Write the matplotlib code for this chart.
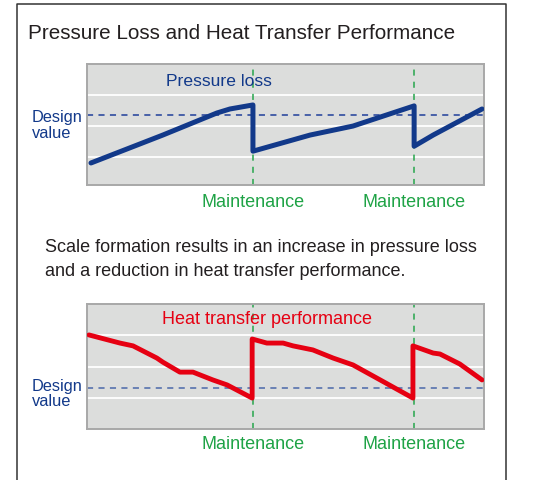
import matplotlib
matplotlib.use("Agg")
import matplotlib.pyplot as plt
from matplotlib.lines import Line2D

plt.rcParams['font.family'] = ['Liberation Sans', 'DejaVu Sans']

# ---- data ----
title = "Pressure Loss and Heat Transfer Performance"
body_lines = ["Scale formation results in an increase in pressure loss",
              "and a reduction in heat transfer performance."]
pressure_label = "Pressure loss"
heat_label = "Heat transfer performance"
maint_label = "Maintenance"
design_words = ["Design", "value"]

maintenance_t = [41.8, 82.4]

pressure_t = [1.0, 19.1, 32.7, 36.0, 41.8, 41.8, 56.2, 67.0, 82.4, 82.4, 87.2, 99.5]
pressure_v = [0.81, 1.71, 2.42, 2.55, 2.68, 1.19, 1.71, 2.00, 2.65, 1.35, 1.71, 2.55]
pressure_design = 2.35

heat_t = [0.5, 8.3, 11.6, 17.6, 19.1, 23.4, 26.7, 31.7, 35.3, 41.6, 41.6, 45.3, 49.4,
          51.9, 56.9, 62.0, 67.0, 73.0, 82.1, 82.1, 87.2, 88.9, 93.9, 99.5]
heat_v = [3.01, 2.75, 2.66, 2.27, 2.14, 1.82, 1.82, 1.57, 1.41, 0.99, 2.88, 2.75, 2.75,
          2.66, 2.53, 2.27, 2.05, 1.63, 0.99, 2.66, 2.43, 2.40, 2.08, 1.57]
heat_design = 1.31

grid_levels = [1, 2, 3]

# ---- styles ----
W, H = 540, 480
BLUE = "#12398a"
RED = "#e60012"
GREEN = "#1fa346"
TEXT = "#231f20"
PANEL = "#dcdddc"

fig = plt.figure(figsize=(W / 100, H / 100), dpi=100)
fig.patch.set_facecolor("white")


def fx(x):
    return x / W


def fy(y):
    return 1 - y / H


# outer frame
fig.add_artist(Line2D([fx(17), fx(17), fx(506), fx(506)], [fy(481), fy(3.5), fy(3.5), fy(481)],
                      transform=fig.transFigure, color="#333333", lw=1.1))

fig.text(fx(28), fy(39), title, fontsize=14.9, color=TEXT, va="baseline", ha="left")
fig.text(fx(45), fy(251.7), body_lines[0], fontsize=13.0, color=TEXT, va="baseline", ha="left")
fig.text(fx(45), fy(276), body_lines[1], fontsize=13.0, color=TEXT, va="baseline", ha="left")


def panel(box, ylim, t, v, color, lw, design, design_color, label, label_size, label_xy,
          label_color, design_xy, maint_offset):
    l, t0, r, b = box
    ax = fig.add_axes([fx(l), fy(b), (r - l) / W, (b - t0) / H])
    ax.set_facecolor(PANEL)
    ax.set_xlim(0, 100)
    ax.set_ylim(*ylim)
    ax.set_xticks([])
    ax.set_yticks([])
    for s in ax.spines.values():
        s.set_color("#a8a8a8")
        s.set_linewidth(1.4)
    for g in grid_levels:
        ax.axhline(g, color="white", lw=1.3, zorder=1)
    ax.axhline(design, color=design_color, lw=1.1, ls=(0, (4, 3.5)), zorder=2)
    for m in maintenance_t:
        ax.axvline(m, color=GREEN, lw=1.25, ls=(0, (3.5, 3.5)), zorder=2, alpha=0.85)
        ax.annotate(maint_label, xy=(m, 0), xycoords=("data", "axes fraction"),
                    xytext=(0, -maint_offset * 0.72), textcoords="offset points",
                    ha="center", va="baseline", fontsize=13, color=GREEN,
                    annotation_clip=False)
    ax.plot(t, v, color=color, lw=lw, solid_joinstyle="round", solid_capstyle="round", zorder=3)
    fig.text(fx(label_xy[0]), fy(label_xy[1]), label, fontsize=label_size, color=label_color,
             va="baseline", ha="left", zorder=4)
    fig.text(fx(design_xy[0]), fy(design_xy[1]), design_words[0], fontsize=11.8, color=BLUE,
             va="baseline", ha="left")
    fig.text(fx(design_xy[0]), fy(design_xy[1] + 15.3), design_words[1], fontsize=11.8,
             color=BLUE, va="baseline", ha="left")
    return ax


panel((87, 64, 484, 185), (0.1, 4.0), pressure_t, pressure_v, BLUE, 3.6, pressure_design,
      "#1f3f9a", pressure_label, 12.6, (166, 86), BLUE, (32, 122.3), 22.3)
panel((87, 304, 484, 429), (0.0, 4.0), heat_t, heat_v, RED, 3.5, heat_design, "#4a68aa",
      heat_label, 13.0, (162.5, 324.3), RED, (32, 390.7), 20.0)

fig.savefig("out.png", dpi=100, facecolor="white")
